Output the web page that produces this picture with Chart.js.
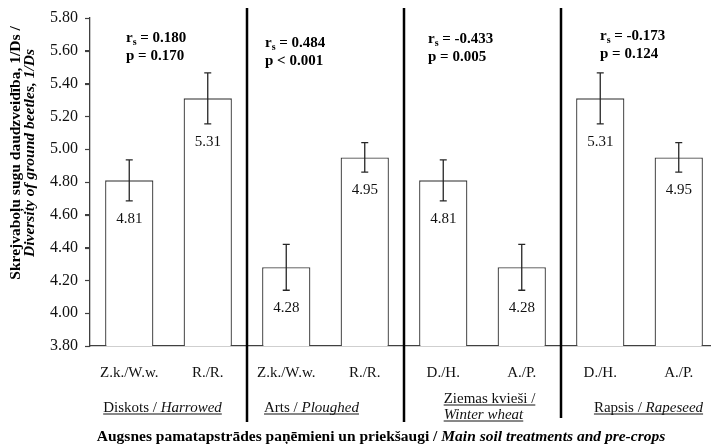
<!DOCTYPE html>
<html lang="lv">
<head>
    <meta charset="UTF-8">
    <title>Skrejvaboļu sugu daudzveidība</title>
    <script src="https://cdn.jsdelivr.net/npm/chart.js"></script>
    <style>
        html, body {
            margin: 0;
            padding: 0;
            background: #fff;
            overflow: hidden;
        }

        .chart-box {
            width: 720px;
            height: 444px;
        }
    </style>
</head>
<body>
    <div class="chart-box">
        <canvas id="diversityChart" width="720" height="444"></canvas>
    </div>

    <script>
        // Data
        const categories = ['Z.k./W.w.', 'R./R.', 'Z.k./W.w.', 'R./R.', 'D./H.', 'A./P.', 'D./H.', 'A./P.'];
        const diversity = [4.81, 5.31, 4.28, 4.95, 4.81, 4.28, 5.31, 4.95];
        const errors = [0.125, 0.155, 0.14, 0.09, 0.125, 0.14, 0.155, 0.09];
        const groupLv = ['Diskots', 'Arts', 'Ziemas kvieši', 'Rapsis'];
        const groupEn = ['Harrowed', 'Ploughed', 'Winter wheat', 'Rapeseed'];
        const rsValues = ['0.180', '0.484', '-0.433', '-0.173'];
        const pValues = ['= 0.170', '< 0.001', '= 0.005', '= 0.124'];
        const yMin = 3.8, yMax = 5.8, yStep = 0.2;

        const SERIF = '"Liberation Serif", "Times New Roman", serif';
        const INK = '#262626';

        // hand-placed bits of the original (offsets in px)
        const groupLabelShift = [-6, -14, 7, 9];
        const statPos = [[36, 42], [18, 46.5], [24, 43], [39, 39.5]];

        function drawRuns(ctx, runs, x, y, align) {
            let total = 0;
            runs.forEach(r => { ctx.font = r.font; r.w = ctx.measureText(r.t).width; total += r.w; });
            let cx = align === 'center' ? x - total / 2 : x;
            runs.forEach(r => {
                ctx.font = r.font;
                ctx.fillText(r.t, cx, y + (r.dy || 0));
                cx += r.w;
            });
            return { left: align === 'center' ? x - total / 2 : x, width: total };
        }

        const extras = {
            id: 'extras',
            afterDatasetsDraw(chart) {
                const { ctx, chartArea, scales } = chart;
                const xs = scales.x, ys = scales.y;
                const step = xs.getPixelForValue(1) - xs.getPixelForValue(0);

                ctx.save();
                // outside tick marks on the value axis
                ctx.strokeStyle = '#404040';
                ctx.lineWidth = 1.2;
                ys.ticks.forEach(t => {
                    const y = Math.round(ys.getPixelForValue(t.value)) + 0.5;
                    ctx.beginPath();
                    ctx.moveTo(chartArea.left - 5, y);
                    ctx.lineTo(chartArea.left, y);
                    ctx.stroke();
                });

                // error bars + value labels
                ctx.strokeStyle = INK;
                ctx.lineWidth = 1.3;
                ctx.fillStyle = '#111';
                ctx.textAlign = 'center';
                ctx.textBaseline = 'middle';
                diversity.forEach((v, i) => {
                    const x = xs.getPixelForValue(i);
                    const yt = ys.getPixelForValue(v + errors[i]);
                    const yb = ys.getPixelForValue(v - errors[i]);
                    ctx.beginPath();
                    ctx.moveTo(x, yt); ctx.lineTo(x, yb);
                    ctx.moveTo(x - 3.5, yt); ctx.lineTo(x + 3.5, yt);
                    ctx.moveTo(x - 3.5, yb); ctx.lineTo(x + 3.5, yb);
                    ctx.stroke();
                    ctx.font = '15px ' + SERIF;
                    ctx.fillText(v.toFixed(2), x, yb + 18);
                });

                // group separators
                ctx.strokeStyle = '#000';
                ctx.lineWidth = 2.5;
                for (let g = 1; g < groupLv.length; g++) {
                    const x = xs.getPixelForValue(g * 2) - step / 2;
                    ctx.beginPath();
                    ctx.moveTo(x, 8);
                    ctx.lineTo(x, g === 3 ? 418 : 422);
                    ctx.stroke();
                }

                // r_s / p annotations
                ctx.textAlign = 'left';
                ctx.textBaseline = 'alphabetic';
                ctx.fillStyle = '#000';
                const bold = 'bold 15px ' + SERIF;
                groupLv.forEach((_, g) => {
                    const x0 = xs.getPixelForValue(g * 2) - step / 2 + statPos[g][0];
                    const y0 = statPos[g][1];
                    drawRuns(ctx, [
                        { t: 'r', font: bold },
                        { t: 's', font: 'bold 10px ' + SERIF, dy: 3 },
                        { t: ' = ' + rsValues[g], font: bold }
                    ], x0, y0, 'left');
                    drawRuns(ctx, [{ t: 'p ' + pValues[g], font: bold }], x0, y0 + 18, 'left');
                });

                // group labels, underlined
                ctx.fillStyle = '#111';
                ctx.strokeStyle = '#111';
                ctx.lineWidth = 1;
                const reg = '15px ' + SERIF, ital = 'italic 15px ' + SERIF;
                groupLv.forEach((lv, g) => {
                    const cx = xs.getPixelForValue(g * 2 + 0.5) + groupLabelShift[g];
                    const lines = lv.length > 8
                        ? [[{ t: lv + ' /', font: reg }], [{ t: groupEn[g], font: ital }]]
                        : [[{ t: lv + ' / ', font: reg }, { t: groupEn[g], font: ital }]];
                    const y0 = lines.length > 1 ? 403 : 412;
                    lines.forEach((runs, k) => {
                        const y = y0 + k * 16;
                        let box;
                        if (lines.length > 1) {
                            ctx.font = reg;
                            const w0 = ctx.measureText(lv + ' /').width;
                            box = drawRuns(ctx, runs, cx - w0 / 2, y, 'left');
                        } else {
                            box = drawRuns(ctx, runs, cx, y, 'center');
                        }
                        ctx.beginPath();
                        ctx.moveTo(box.left, y + 2);
                        ctx.lineTo(box.left + box.width, y + 2);
                        ctx.stroke();
                    });
                });

                // x axis title
                ctx.fillStyle = '#000';
                drawRuns(ctx, [
                    { t: 'Augsnes pamatapstrādes paņēmieni un priekšaugi / ', font: 'bold 15.5px ' + SERIF },
                    { t: 'Main soil treatments and pre-crops', font: 'bold italic 15.5px ' + SERIF }
                ], 381, 441, 'center');

                // y axis title, rotated
                ctx.save();
                ctx.translate(16, 153);
                ctx.rotate(-Math.PI / 2);
                ctx.textBaseline = 'middle';
                drawRuns(ctx, [{ t: 'Skrejvaboļu sugu daudzveidība, 1/Ds /', font: 'bold 15.5px ' + SERIF }], 0, 0, 'center');
                drawRuns(ctx, [{ t: 'Diversity of ground beetles, 1/Ds', font: 'bold italic 15.5px ' + SERIF }], 0, 14, 'center');
                ctx.restore();
                ctx.restore();
            }
        };

        new Chart(document.getElementById('diversityChart'), {
            type: 'bar',
            data: {
                labels: categories,
                datasets: [{
                    data: diversity,
                    backgroundColor: '#ffffff',
                    borderColor: '#404040',
                    borderWidth: 1.3,
                    borderSkipped: 'bottom',
                    categoryPercentage: 1,
                    barPercentage: 0.615
                }]
            },
            options: {
                responsive: false,
                animation: false,
                devicePixelRatio: 1,
                layout: { padding: { left: 0, top: 18, right: 2, bottom: 0 } },
                plugins: {
                    legend: { display: false },
                    tooltip: { enabled: false }
                },
                scales: {
                    x: {
                        grid: { display: false },
                        border: { display: true, color: '#404040', width: 1.3 },
                        ticks: {
                            color: '#111',
                            padding: 10,
                            maxRotation: 0,
                            autoSkip: false,
                            font: { family: SERIF, size: 15 }
                        },
                        afterFit(scale) { scale.height = 98; }
                    },
                    y: {
                        min: yMin,
                        max: yMax,
                        grid: {
                            drawOnChartArea: false,
                            drawTicks: true,
                            tickLength: 5,
                            color: '#404040'
                        },
                        border: { display: true, color: '#404040', width: 1.3 },
                        ticks: {
                            stepSize: yStep,
                            padding: 7,
                            color: '#111',
                            font: { family: SERIF, size: 16 },
                            callback: v => v.toFixed(2)
                        },
                        afterFit(scale) { scale.width = 90; }
                    }
                }
            },
            plugins: [extras]
        });
    </script>
</body>
</html>
